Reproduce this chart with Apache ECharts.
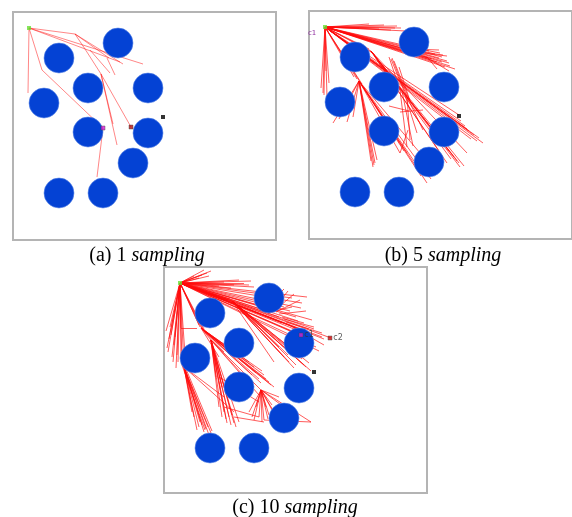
<!DOCTYPE html>
<html>
<head>
<meta charset="utf-8">
<title>sampling</title>
<script src="https://cdn.jsdelivr.net/npm/echarts@6/dist/echarts.min.js"></script>
<style>
html, body { margin: 0; padding: 0; background: #fff; }
#main { width: 572px; height: 517px; }
</style>
</head>
<body>
<div id="main"></div>
<script>
// obstacle centres, same map in all three panels (x right, y down)
var obstacles = [[105,31],[46,46],[75,76],[135,76],[31,91],[75,120],[135,121],[120,151],[46,181],[90,181]];
var startPt = [16,16];
var goalPt = [150,105];

// (a) tree edges x1,y1,x2,y2
var edgesA = [
	[16,16,15,81],[16,16,62,22],[62,22,72,37],[72,37,88,62],[16,16,107,50],[16,16,130,52],
	[62,22,96,46],[62,22,110,52],[77,38,97,61],[94,46,102,63],[16,16,29,58],[29,58,90,116],
	[88,62,118,115],[88,62,104,133],[88,62,100,112],[90,116,84,165]
];
var pointsA = [[90,116,'#d020d0',''],[118,115,'#b01010','']];

// (b) tree edges
var edgesB = [
	[16,16,60,13],[16,16,75,14],[16,16,88,15],[16,16,92,17],[16,16,82,19],[16,16,70,18],[16,16,97,20],[16,16,50,17],[16,16,86,17],
	[16,16,120,40],[16,16,126,43],[16,16,133,46],[16,16,138,50],[16,16,141,55],[16,16,146,58],[16,16,136,56],
	[16,16,128,51],[16,16,118,47],[16,16,110,42],[16,16,123,48],[16,16,140,52],[16,16,130,47],
	[112,42,138,45],[110,44,133,51],[115,45,140,60],[105,38,130,39],[118,46,128,58],[100,36,131,42],[105,40,134,44],
	[16,16,174,132],[16,16,170,127],[16,16,165,124],[16,16,160,120],[16,16,156,115],[16,16,152,110],[16,16,162,128],
	[16,16,150,104],[16,16,168,130],[16,16,158,118],
	[83,47,98,86],[85,50,100,88],[90,56,101,90],[98,86,114,119],[98,86,101,129],[96,84,108,122],
	[16,16,14,82],[16,16,12,77],[16,16,18,86],[16,16,20,72],[16,16,17,60],[16,16,15,84],
	[16,16,48,68],[16,16,51,71],[16,16,45,66],[16,16,53,73],
	[50,70,24,112],[50,70,38,111],[50,70,44,106],[50,70,30,108],[50,70,64,156],[50,70,66,152],[50,70,68,149],
	[50,70,62,150],[50,70,91,142],[50,70,98,142],[50,70,118,172],[50,70,128,162],[50,70,112,165],[50,70,105,150],
	[50,70,65,154],[50,70,95,140],[50,70,122,168],
	[16,16,62,40],[16,16,60,38],[16,16,64,42],
	[62,40,151,156],[62,40,148,150],[62,40,145,146],[62,40,140,140],[62,40,155,155],[62,40,138,152],[62,40,130,140],
	[62,40,158,142],[62,40,150,152],[62,40,142,148],
	[91,101,114,99],[99,119,91,142],[80,95,100,100],
	[80,46,91,79],[82,48,95,80],[91,79,98,136],[93,80,104,135]
];
var pointsB = [];

// (c) tree edges
var edgesC = [
	[16,16,47,4],[16,16,43,6],[16,16,38,8],[16,16,35,11],[16,16,45,9],[16,16,30,9],[16,16,40,3],
	[16,16,87,14],[16,16,80,16],[16,16,67,21],[16,16,85,18],[16,16,75,13],[16,16,60,15],[16,16,90,20],[16,16,70,18],[16,16,55,19],
	[16,16,128,31],[16,16,137,41],[16,16,140,64],[16,16,150,74],[16,16,155,84],[16,16,167,71],[16,16,160,72],[16,16,145,62],
	[16,16,148,53],[16,16,143,30],[16,16,138,36],[16,16,120,40],[16,16,132,50],[16,16,125,58],[16,16,142,70],[16,16,115,50],
	[16,16,105,45],[16,16,110,52],[16,16,118,56],[16,16,100,40],[16,16,130,62],[16,16,152,80],[16,16,135,68],
	[16,16,158,70],[16,16,146,66],[16,16,134,54],[16,16,126,44],[16,16,150,62],
	[108,44,124,24],[110,44,130,27],[112,45,136,33],[115,47,142,44],[118,50,140,56],[120,52,150,60],[100,42,120,22],
	[105,45,128,40],[122,55,158,66],[125,58,160,78],[130,60,146,86],
	[16,16,68,34],[16,16,66,32],[16,16,70,36],[16,16,64,33],
	[68,34,130,101],[68,34,147,104],[68,34,140,98],[68,34,125,95],[68,34,120,90],[68,34,135,88],[68,34,145,96],
	[68,34,128,85],[68,34,115,80],[68,34,110,95],[68,34,132,98],[68,34,138,92],[68,34,124,88],[68,34,142,100],
	[16,16,2,64],[16,16,3,81],[16,16,10,78],[16,16,12,101],[16,16,8,90],[16,16,5,72],[16,16,14,95],[16,16,6,60],[16,16,11,70],
	[16,16,4,85],[16,16,9,95],[16,16,7,68],[16,16,13,88],
	[16,16,17,61],[17,61,33,61],
	[16,16,35,58],[16,16,38,62],[16,16,40,64],[16,16,36,60],[16,16,42,66],
	[37,61,100,108],[37,61,95,112],[37,61,105,115],[37,61,110,120],[37,61,90,100],[37,61,85,95],[37,61,47,73],
	[37,61,98,104],[37,61,92,106],[37,61,60,85],[37,61,55,90],[37,61,102,112],[37,61,97,116],[37,61,88,108],[37,61,107,118],
	[47,73,63,156],[47,73,70,156],[47,73,65,150],[47,73,60,145],[47,73,55,140],[47,73,72,160],[47,73,58,120],
	[47,73,52,110],[47,73,97,123],[47,73,95,128],[47,73,90,120],
	[47,73,67,158],[47,73,62,152],[47,73,68,148],[47,73,58,150],[47,73,75,155],
	[16,16,18,98],[16,16,20,100],[16,16,22,102],[16,16,17,92],
	[20,100,47,166],[20,100,33,163],[20,100,40,165],[20,100,44,160],[20,100,36,155],[20,100,30,150],[20,100,42,162],
	[20,100,38,158],[20,100,60,130],[20,100,70,145],
	[20,100,45,168],[20,100,35,160],[20,100,28,145],[18,98,41,163],[22,102,48,164],
	[97,123,100,153],[97,123,90,153],[97,123,95,150],[97,123,105,148],[97,123,110,145],[97,123,147,155],[97,123,85,145],
	[97,123,102,140],[97,123,92,140],[97,123,108,138],[97,123,115,130],
	[97,123,98,155],[97,123,104,152],[97,123,88,150],[97,123,120,140],[97,123,112,150],
	[100,153,147,155],[60,140,95,150],[70,150,100,155],[55,110,95,135]
];
var pointsC = [[137,68,'#d020d0','c1'],[166,71,'#d01010','c2']];

var captions = [['(a) 1 ', 'sampling'], ['(b) 5 ', 'sampling'], ['(c) 10 ', 'sampling']];

var myChart = echarts.init(document.getElementById('main'), null, { renderer: 'canvas' });

var panels = [
	{ left: 13, top: 12, width: 263, height: 228, edges: edgesA, pts: pointsA, cap: [147, 256], alpha: 0.55 },
	{ left: 309, top: 11, width: 263, height: 228, edges: edgesB, pts: pointsB, cap: [443, 256], alpha: 0.75 },
	{ left: 164, top: 267, width: 263, height: 226, edges: edgesC, pts: pointsC, cap: [295, 508], alpha: 0.75 }
];

var grids = [], xAxes = [], yAxes = [], series = [], graphics = [];

panels.forEach(function (p, i) {
	grids.push({
		left: p.left, top: p.top, width: p.width, height: p.height,
		show: true, borderColor: '#b4b4b4', borderWidth: 2, backgroundColor: '#fff'
	});
	xAxes.push({ gridIndex: i, type: 'value', min: 0, max: p.width, show: false });
	yAxes.push({ gridIndex: i, type: 'value', min: 0, max: p.height, inverse: true, show: false });

	// tree
	series.push({
		type: 'lines',
		coordinateSystem: 'cartesian2d',
		xAxisIndex: i, yAxisIndex: i,
		silent: true,
		z: 2,
		lineStyle: { color: '#ff0a0a', width: 0.9, opacity: p.alpha },
		data: p.edges.map(function (e) {
			return { coords: [[e[0], e[1]], [e[2], e[3]]] };
		})
	});
	// obstacles
	series.push({
		type: 'scatter',
		xAxisIndex: i, yAxisIndex: i,
		silent: true,
		z: 3,
		symbolSize: 30,
		itemStyle: { color: '#0442d4', borderColor: '#5b86e8', borderWidth: 0.6, opacity: 1 },
		data: obstacles
	});
	// start / goal
	series.push({
		type: 'scatter',
		xAxisIndex: i, yAxisIndex: i,
		silent: true,
		z: 4,
		data: [
			{ value: startPt, symbol: 'rect', symbolSize: 4, itemStyle: { color: '#66e033' } },
			{ value: goalPt, symbol: 'rect', symbolSize: 4, itemStyle: { color: '#000' } }
		]
	});
	// other marked nodes
	series.push({
		type: 'scatter',
		xAxisIndex: i, yAxisIndex: i,
		silent: true,
		z: 5,
		symbol: 'rect',
		symbolSize: 4,
		label: {
			show: true, position: 'right', distance: 1,
			fontSize: 8, color: '#333', fontFamily: 'DejaVu Sans',
			formatter: function (d) { return d.data.name; }
		},
		data: p.pts.map(function (q) {
			return { value: [q[0], q[1]], name: q[3], itemStyle: { color: q[2], borderColor: '#444', borderWidth: 0.5 } };
		})
	});

	graphics.push({
		type: 'text',
		x: p.cap[0], y: p.cap[1],
		style: {
			text: '{n|' + captions[i][0] + '}{s|' + captions[i][1] + '}',
			align: 'center', verticalAlign: 'middle',
			textAlign: 'center', textVerticalAlign: 'middle',
			rich: {
				n: { fontFamily: 'Liberation Serif', fontSize: 20, color: '#111' },
				s: { fontFamily: 'Liberation Serif', fontSize: 20, fontStyle: 'italic', color: '#111' }
			}
		}
	});
});

// stray label at the left edge of (b)
graphics.push({
	type: 'text', x: 308, y: 30,
	style: { text: 'c1', fontSize: 7, fill: '#9030a0', fontFamily: 'DejaVu Sans' }
});

var option = {
	animation: false,
	backgroundColor: '#fff',
	grid: grids,
	xAxis: xAxes,
	yAxis: yAxes,
	series: series,
	graphic: graphics
};

myChart.setOption(option);
</script>
</body>
</html>
